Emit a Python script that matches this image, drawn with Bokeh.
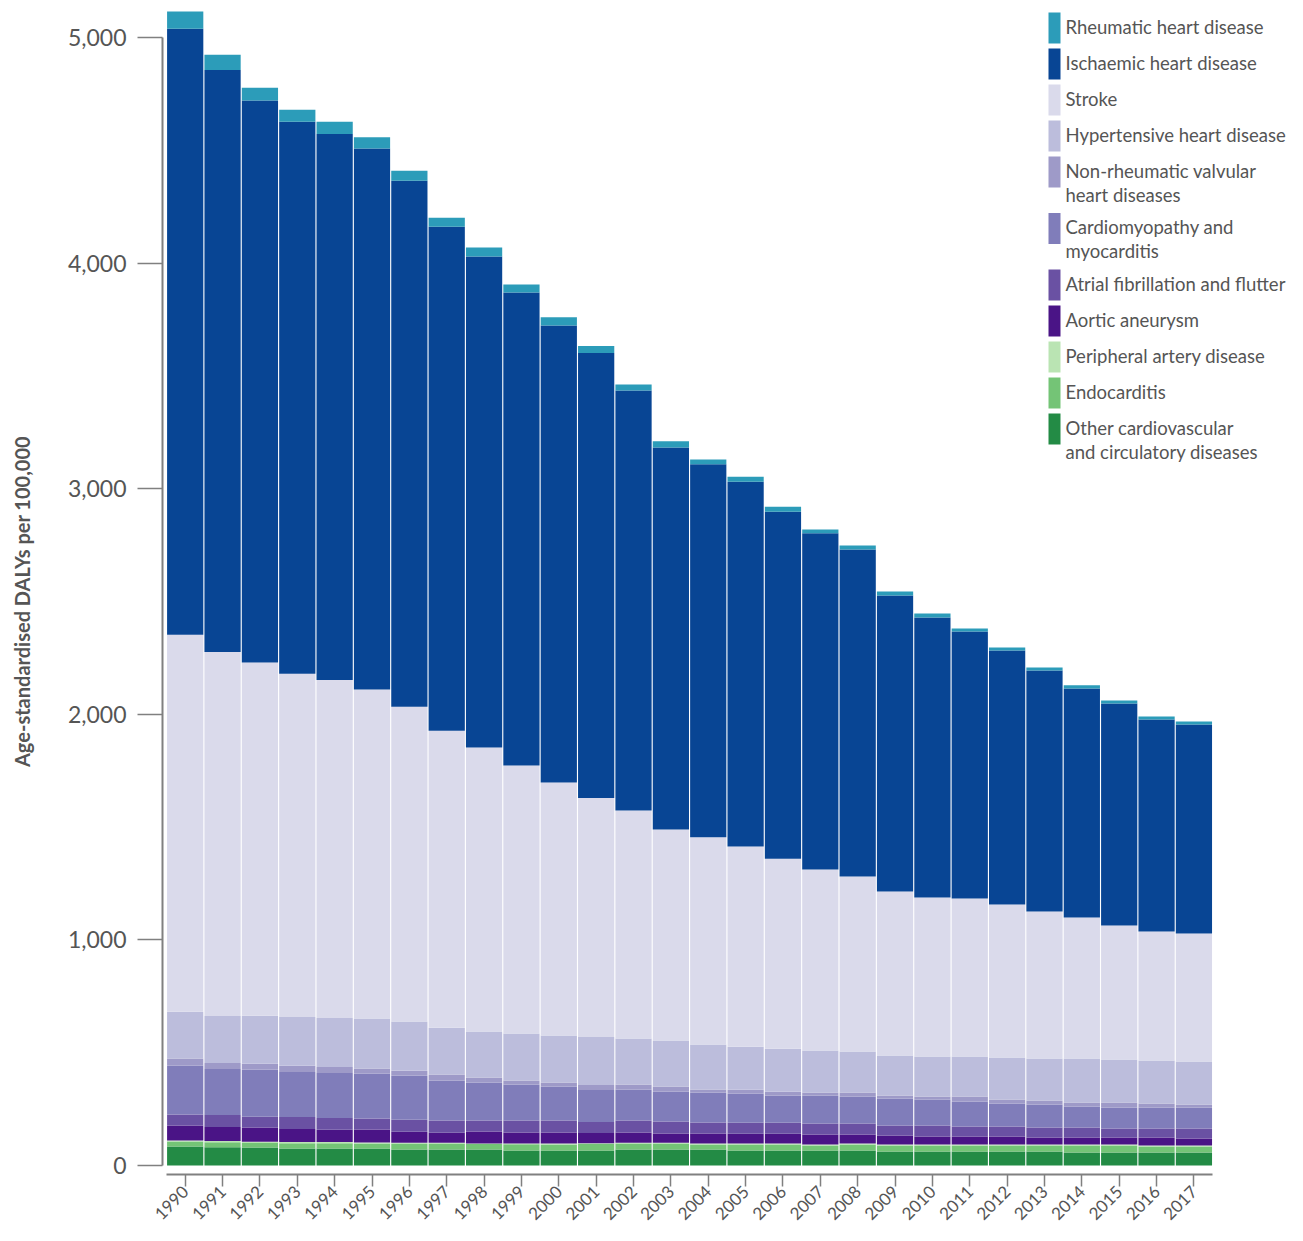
import math
from bokeh.plotting import figure
from bokeh.models import (ColumnDataSource, Range1d, FixedTicker, NumeralTickFormatter,
                          BoxAnnotation, Label)
from bokeh.embed import file_html
from bokeh.resources import INLINE

years = list(range(1990, 2018))

other = [84, 81, 80, 75, 75, 75, 71, 71, 71, 66, 66, 66, 71, 71, 71, 66, 66, 66, 66, 62, 62, 62, 62, 62, 58, 58, 58, 58]
endocarditis = [22, 22, 20, 24, 24, 23, 26, 26, 24, 28, 27, 30, 27, 27, 22, 27, 27, 23, 27, 27, 27, 27, 27, 27, 31, 31, 26, 26]
peripheral = [5, 6, 5, 5, 5, 4, 4, 4, 3, 3, 4, 3, 3, 3, 5, 4, 4, 4, 4, 4, 4, 4, 4, 4, 4, 4, 5, 5]
aortic = [66, 62, 63, 58, 54, 58, 49, 44, 53, 49, 49, 45, 45, 41, 44, 44, 44, 44, 40, 40, 36, 36, 36, 31, 31, 31, 35, 31]
atrial = [49, 53, 48, 53, 53, 48, 53, 54, 49, 54, 54, 49, 54, 53, 49, 49, 49, 49, 49, 44, 48, 44, 44, 44, 44, 40, 40, 44]
cardiomyopathy = [217, 204, 209, 200, 199, 200, 195, 177, 168, 159, 150, 142, 137, 133, 133, 128, 119, 124, 120, 120, 116, 111, 102, 102, 94, 93, 93, 93]
valvular = [31, 27, 26, 27, 27, 22, 22, 27, 22, 18, 18, 22, 22, 22, 13, 18, 18, 14, 18, 13, 13, 22, 18, 18, 17, 22, 18, 14]
hypertensive = [208, 208, 213, 217, 217, 222, 218, 208, 204, 208, 208, 213, 204, 204, 200, 191, 191, 186, 182, 178, 177, 177, 186, 187, 196, 191, 191, 190]
stroke = [1672, 1614, 1566, 1521, 1499, 1459, 1396, 1317, 1260, 1189, 1122, 1060, 1011, 936, 918, 887, 842, 803, 776, 727, 705, 701, 678, 651, 625, 594, 572, 568]
ischaemic = [2687, 2581, 2492, 2448, 2421, 2399, 2333, 2235, 2177, 2097, 2027, 1973, 1863, 1694, 1654, 1618, 1539, 1490, 1450, 1313, 1242, 1184, 1127, 1069, 1015, 985, 940, 927]
rheumatic = [76, 67, 57, 53, 54, 49, 44, 40, 40, 36, 36, 31, 26, 27, 22, 22, 22, 17, 17, 17, 18, 13, 13, 13, 14, 13, 13, 13]

y_ticks = [0, 1000, 2000, 3000, 4000, 5000]

# stacking order, bottom to top
keys = ["other", "endocarditis", "peripheral", "aortic", "atrial", "cardiomyopathy",
        "valvular", "hypertensive", "stroke", "ischaemic", "rheumatic"]
labels = ["Other cardiovascular\nand circulatory diseases", "Endocarditis",
          "Peripheral artery disease", "Aortic aneurysm", "Atrial fibrillation and flutter",
          "Cardiomyopathy and\nmyocarditis", "Non-rheumatic valvular\nheart diseases",
          "Hypertensive heart disease", "Stroke", "Ischaemic heart disease",
          "Rheumatic heart disease"]
colors = ["#238b45", "#74c476", "#bae4b3", "#4a1486", "#6a51a3", "#807dba",
          "#9e9ac8", "#bcbddc", "#dadaeb", "#084594", "#2c9cb9"]

source = ColumnDataSource(dict(
    year=years, other=other, endocarditis=endocarditis, peripheral=peripheral,
    aortic=aortic, atrial=atrial, cardiomyopathy=cardiomyopathy, valvular=valvular,
    hypertensive=hypertensive, stroke=stroke, ischaemic=ischaemic, rheumatic=rheumatic))

FONT = "Lato"
TXT = "#555555"
AX = "#808080"

W, H = 1287, 1225
PX_PER_YEAR = 37.36
PX_PER_UNIT = 0.22552
X_START = 1990 - 184.7 / PX_PER_YEAR
X_END = X_START + W / PX_PER_YEAR
Y_TOP = 1165.0 / PX_PER_UNIT
Y_BOTTOM = Y_TOP - H / PX_PER_UNIT


def dx(px):
    """canvas pixel x -> data x"""
    return X_START + px / PX_PER_YEAR


def dy(py):
    """canvas pixel y (from top) -> data y"""
    return Y_TOP - py / PX_PER_UNIT


p = figure(width=W, height=H, output_backend="svg", toolbar_location=None,
           x_range=Range1d(X_START, X_END), y_range=Range1d(Y_BOTTOM, Y_TOP),
           min_border_left=0, min_border_right=0, min_border_top=0, min_border_bottom=0)
p.outline_line_color = None
p.xgrid.visible = False
p.ygrid.visible = False
p.background_fill_color = "white"
p.border_fill_color = "white"

renderers = p.vbar_stack(keys, x="year", width=0.97, color=colors, line_color=None,
                         source=source)

# y axis (detached, spans 0..5000)
ya = p.yaxis[0]
ya.fixed_location = dx(162)
ya.ticker = FixedTicker(ticks=y_ticks)
ya.formatter = NumeralTickFormatter(format="0,0")
ya.bounds = (y_ticks[0], y_ticks[-1])
ya.axis_line_color = AX
ya.axis_line_width = 2
ya.major_tick_line_color = AX
ya.major_tick_line_width = 1.5
ya.major_tick_out = 25
ya.major_tick_in = 0
ya.minor_tick_line_color = None
ya.major_label_standoff = 11
ya.major_label_text_font = FONT
ya.major_label_text_font_size = "23px"
ya.major_label_text_color = TXT
ya.axis_label = "Age-standardised DALYs per 100,000"
ya.axis_label_text_font = FONT
ya.axis_label_text_font_style = "bold"
ya.axis_label_text_font_size = "20px"
ya.axis_label_text_color = TXT
ya.axis_label_standoff = 31

# x axis (detached, below the bars)
xa = p.xaxis[0]
xa.fixed_location = dy(1174)
xa.ticker = FixedTicker(ticks=years)
xa.bounds = (years[0] - 0.5, years[-1] + 0.5)
xa.axis_line_color = AX
xa.axis_line_width = 2
xa.major_tick_line_color = AX
xa.major_tick_line_width = 1.5
xa.major_tick_out = 12
xa.major_tick_in = 0
xa.minor_tick_line_color = None
xa.major_label_orientation = math.pi / 4
xa.major_label_standoff = 2
xa.major_label_text_font = FONT
xa.major_label_text_font_size = "17px"
xa.major_label_text_color = TXT

# legend (top to bottom), drawn as swatches + text labels
top = 12.0
for i in range(len(keys) - 1, -1, -1):
    lines = labels[i].split("\n")
    p.add_layout(BoxAnnotation(left=dx(1048), right=dx(1060), top=dy(top), bottom=dy(top + 31),
                               fill_color=colors[i], fill_alpha=1.0, line_color=None,
                               level="overlay"))
    for j, line in enumerate(lines):
        p.add_layout(Label(x=dx(1065), y=dy(top + 14 + 24 * j), text=line,
                           text_align="left", text_baseline="middle", text_font=FONT,
                           text_font_size="18.5px", text_color=TXT))
    top += 36 if len(lines) == 1 else 56.5

open("out.html", "w").write(file_html(p, INLINE))
